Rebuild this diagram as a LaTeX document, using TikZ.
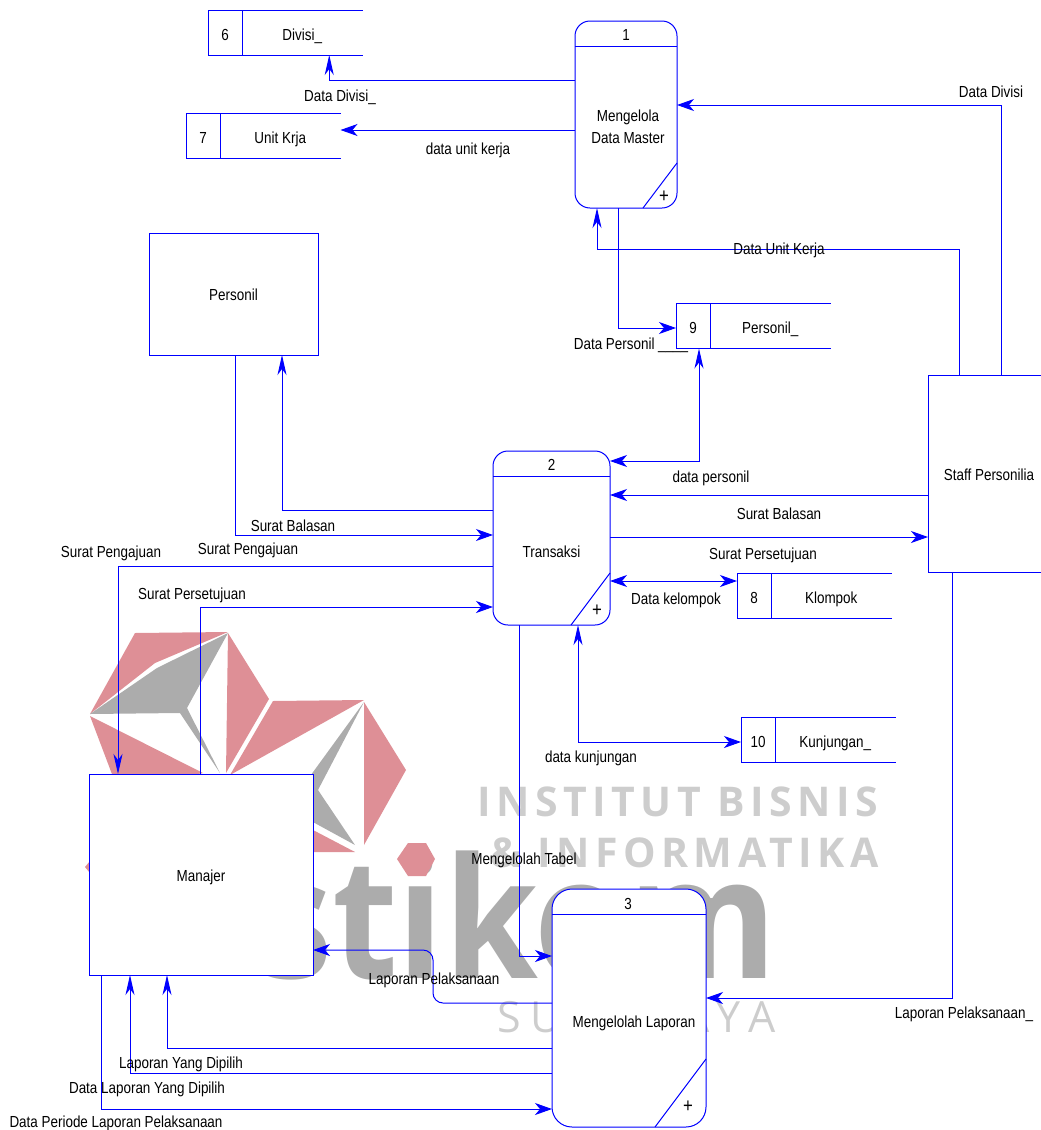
\documentclass[tikz,border=0pt]{standalone}
\usepackage{fontspec}
\setmainfont[FakeStretch=0.84]{Liberation Sans}
\newfontfamily\stikomfont[FakeStretch=0.9]{Open Sans}
\newfontfamily\bisnisfont[LetterSpace=13.5]{Open Sans}
\newfontfamily\surabayafont[LetterSpace=23]{Open Sans}
\usetikzlibrary{arrows.meta, positioning}
\definecolor{dfdblue}{RGB}{0,0,255}
\definecolor{logopink}{RGB}{222,143,150}
\definecolor{logogrey}{RGB}{172,172,172}
\definecolor{logolight}{RGB}{205,205,205}

\begin{document}
\begin{tikzpicture}[
    x=1pt, y=-1pt,
    tiph/.tip={Stealth[length=17pt, width=12pt, inset=5pt]},
    tipv/.tip={Stealth[length=20pt, width=9pt, inset=6pt]},
    flow/.style={draw=dfdblue, line width=1pt},
    process/.style={
        rectangle,
        flow,
        fill=white,
        rounded corners=15pt,
        inner sep=0pt,
        outer sep=0pt
    },
    entity/.style={
        rectangle,
        flow,
        fill=white,
        inner sep=0pt,
        outer sep=0pt,
        text height=13pt,
        text depth=0pt,
        font=\fontsize{16}{22}\selectfont
    },
    storeid/.style={
        rectangle,
        flow,
        minimum width=34pt,
        minimum height=45pt,
        inner sep=0pt,
        outer sep=0pt,
        text height=15pt,
        text depth=0pt,
        font=\fontsize{16}{22}\selectfont
    },
    storename/.style={
        rectangle,
        minimum width=120.5pt,
        minimum height=45pt,
        inner sep=0pt,
        outer sep=0pt,
        text height=15pt,
        text depth=0pt,
        font=\fontsize{16}{22}\selectfont,
        append after command={
            (\tikzlastnode.north west) edge[flow] (\tikzlastnode.north east)
            (\tikzlastnode.south west) edge[flow] (\tikzlastnode.south east)
        }
    },
    flowlabel/.style={
        inner sep=0pt,
        align=center,
        yshift=-1pt,
        font=\fontsize{16}{22}\selectfont
    },
    procplus/.style={
        inner sep=0pt,
        font=\fontsize{20}{20}\selectfont
    }
]
\useasboundingbox (0,0) rectangle (1041,1130);

% watermark
\fill[logopink] (135,633) -- (228,632) -- (155,663) -- (90,714) -- cycle;
\fill[logopink] (228,633) -- (269,699) -- (226,773) -- cycle;
\fill[logopink] (90,716) -- (203,773) -- (118,790) -- cycle;
\fill[logopink] (273,701) -- (364,700) -- (230,775) -- cycle;
\fill[logopink] (364,702) -- (406,770) -- (364,845) -- cycle;
\fill[logopink] (313,830) -- (355,852) -- (313,852) -- cycle;
\fill[logopink] (85,867) -- (95,855) -- (95,879) -- cycle;
\fill[logogrey] (228,633) -- (187,708) -- (220,773) -- (180,713) -- (90,714) -- (157,668) -- cycle;
\fill[logogrey] (364,702) -- (318,790) -- (355,845) -- (300,815) -- (300,790) -- cycle;

\node[anchor=base west, inner sep=0pt, text=logogrey, font=\stikomfont\bfseries\fontsize{168}{168}\selectfont] (logo_word) at (257,978) {stikom};
\fill[logopink] (408,843) -- (426,843) -- (435,859) -- (426,876) -- (408,876) -- (397,859) -- cycle;
\node[anchor=base west, inner sep=0pt, text=logolight, font=\bisnisfont\bfseries\fontsize{41}{41}\selectfont] (logo_line1) at (477,816) {INSTITUT BISNIS};
\node[anchor=base west, inner sep=0pt, text=logolight, font=\bisnisfont\bfseries\fontsize{41}{41}\selectfont] (logo_line2) at (490,867) {\& INFORMATIKA};
\node[anchor=base west, inner sep=0pt, text=logolight, font=\surabayafont\fontsize{43}{43}\selectfont] (logo_line3) at (497,1032) {SURABAYA};

% processes
\node[process, minimum width=117pt, minimum height=174pt] (trans_proc) at (551.5,538) {};
\node[process, minimum width=102pt, minimum height=187pt, above=243pt of trans_proc, xshift=74.5pt] (master_proc) {};
\node[process, rounded corners=20pt, minimum width=154pt, minimum height=238pt, below=264pt of trans_proc, xshift=77.5pt] (lapor_proc) {};

\draw[flow] ([yshift=-25pt]master_proc.north west) -- ([yshift=-25pt]master_proc.north east);
\draw[flow] ([yshift=-25pt]trans_proc.north west) -- ([yshift=-25pt]trans_proc.north east);
\draw[flow] ([yshift=-25pt]lapor_proc.north west) -- ([yshift=-25pt]lapor_proc.north east);
\draw[flow] ([xshift=17pt]master_proc.south) -- ([yshift=-48.5pt]master_proc.east);
\draw[flow] ([xshift=19.5pt]trans_proc.south) -- ([yshift=-35pt]trans_proc.east);
\draw[flow] ([xshift=26pt]lapor_proc.south) -- ([yshift=-51pt]lapor_proc.east);

\node[flowlabel] (master_num) at ([yshift=-13pt]master_proc.north) {1};
\node[flowlabel] (trans_num) at ([yshift=-13pt]trans_proc.north) {2};
\node[flowlabel] (lapor_num) at ([yshift=-14pt, xshift=-1pt]lapor_proc.north) {3};
\node[flowlabel] (master_txt) at ([yshift=-11.5pt, xshift=2pt]master_proc.center) {Mengelola\\Data Master};
\node[flowlabel] (trans_txt) at ([yshift=-13pt]trans_proc.center) {Transaksi};
\node[flowlabel] (lapor_txt) at ([yshift=-14pt, xshift=5pt]lapor_proc.center) {Mengelolah Laporan};
\node[procplus] (master_plus) at (664,197) {+};
\node[procplus] (trans_plus) at (597,611) {+};
\node[procplus] (lapor_plus) at (688,1107) {+};

% external entities
\node[entity, minimum width=169pt, minimum height=122pt, left=175pt of trans_proc, yshift=244pt] (personil_ent) {Personil};
\node[entity, minimum width=224pt, minimum height=201pt, left=180pt of trans_proc, yshift=-336.5pt] (manajer_ent) {Manajer};
\node[entity, minimum width=122pt, minimum height=197pt, right=318pt of trans_proc, yshift=64.5pt] (staff_ent) {Staff Personilia};

% data stores
\node[storeid, left=333pt of master_proc, yshift=82pt] (divisi_id) {6};
\node[storename, right=0pt of divisi_id] (divisi_name) {Divisi\_};
\node[storeid, left=355pt of master_proc, yshift=-21.5pt] (unit_id) {7};
\node[storename, right=0pt of unit_id] (unit_name) {Unit Krja};
\node[storeid, right=66pt of trans_proc, yshift=212pt] (personil_id) {9};
\node[storename, right=0pt of personil_id] (personil_name) {Personil\_};
\node[storeid, right=127pt of trans_proc, yshift=-58pt] (klompok_id) {8};
\node[storename, right=0pt of klompok_id] (klompok_name) {Klompok};
\node[storeid, right=131pt of trans_proc, yshift=-202pt] (kunjungan_id) {10};
\node[storename, right=0pt of kunjungan_id] (kunjungan_name) {Kunjungan\_};

% data flows
\draw[flow, -tipv] ([yshift=34.5pt]master_proc.west) -| ([xshift=27pt]divisi_name.south);
\draw[flow, -tiph] ([yshift=-15.5pt]master_proc.west) -- ([yshift=6pt]unit_name.east);
\draw[flow, -tiph] ([xshift=12pt]staff_ent.north) |- ([yshift=9.5pt]master_proc.east);
\draw[flow, -tipv] ([xshift=-30pt]staff_ent.north) -- ++(0,-126) -| ([xshift=-29pt]master_proc.south);
\draw[flow, -tiph] ([xshift=-8pt]master_proc.south) |- ([yshift=-2pt]personil_id.west);
\draw[flow, tipv-tiph] ([xshift=6pt]personil_id.south) |- ([yshift=77pt]trans_proc.east);
\draw[flow, -tiph] ([yshift=-21.5pt]staff_ent.west) -- ([yshift=43pt]trans_proc.east);
\draw[flow, -tiph] ([yshift=1pt]trans_proc.east) -- ([yshift=-63.5pt]staff_ent.west);
\draw[flow, tiph-tiph] ([yshift=-43pt]trans_proc.east) -- ([yshift=15pt]klompok_id.west);
\draw[flow, -tiph] ([xshift=1.5pt]personil_ent.south) |- ([yshift=3pt]trans_proc.west);
\draw[flow, -tipv] ([yshift=28pt]trans_proc.west) -| ([xshift=48.5pt]personil_ent.south);
\draw[flow, -tipv] ([yshift=-28pt]trans_proc.west) -| ([xshift=-83pt]manajer_ent.north);
\draw[flow, -tiph] ([xshift=-1pt]manajer_ent.north) |- ([yshift=-69pt]trans_proc.west);
\draw[flow, tipv-tiph] ([xshift=26.5pt]trans_proc.south) |- ([yshift=-2pt]kunjungan_id.west);
\draw[flow, -tiph] ([xshift=-32.5pt]trans_proc.south) |- ([yshift=52pt]lapor_proc.west);
\draw[flow, -tiph] ([xshift=-37pt]staff_ent.south) |- ([yshift=10pt]lapor_proc.east);
\draw[flow, -tiph, rounded corners=10pt] ([yshift=5pt]lapor_proc.west) -- ++(-119,0) -- ++(0,-53) -- ([yshift=-75.5pt]manajer_ent.east);
\draw[flow, -tipv] ([yshift=-40pt]lapor_proc.west) -| ([xshift=-34pt]manajer_ent.south);
\draw[flow, -tipv] ([yshift=-65pt]lapor_proc.west) -| ([xshift=-71pt]manajer_ent.south);
\draw[flow, -tiph] ([xshift=-100pt]manajer_ent.south) |- ([yshift=-101pt]lapor_proc.west);

% flow labels
\node[flowlabel] (lbl_divisi) at (340,96) {Data Divisi\_};
\node[flowlabel] (lbl_unit) at (468,149) {data unit kerja};
\node[flowlabel] (lbl_staff_divisi) at (991,91) {Data Divisi};
\node[flowlabel] (lbl_staff_unit) at (779,249) {Data Unit Kerja};
\node[flowlabel] (lbl_personil) at (631,344) {Data Personil \_\_\_\_};
\node[flowlabel] (lbl_dpersonil) at (711,477) {data personil};
\node[flowlabel] (lbl_balasan_a) at (779,513) {Surat Balasan};
\node[flowlabel] (lbl_setuju_a) at (763,554) {Surat Persetujuan};
\node[flowlabel] (lbl_kelompok) at (676,599) {Data kelompok};
\node[flowlabel] (lbl_balasan_b) at (293,525) {Surat Balasan};
\node[flowlabel] (lbl_aju_a) at (248,549) {Surat Pengajuan};
\node[flowlabel] (lbl_aju_b) at (111,552) {Surat Pengajuan};
\node[flowlabel] (lbl_setuju_b) at (192,594) {Surat Persetujuan};
\node[flowlabel] (lbl_kunjungan) at (591,757) {data kunjungan};
\node[flowlabel] (lbl_tabel) at (524,859) {Mengelolah Tabel};
\node[flowlabel] (lbl_lapor_a) at (964,1013) {Laporan Pelaksanaan\_};
\node[flowlabel] (lbl_lapor_b) at (434,979) {Laporan Pelaksanaan};
\node[flowlabel] (lbl_dipilih_a) at (181,1063) {Laporan Yang Dipilih};
\node[flowlabel] (lbl_dipilih_b) at (147,1088) {Data Laporan Yang Dipilih};
\node[flowlabel] (lbl_periode) at (116,1122) {Data Periode Laporan Pelaksanaan};

\end{tikzpicture}
\end{document}
